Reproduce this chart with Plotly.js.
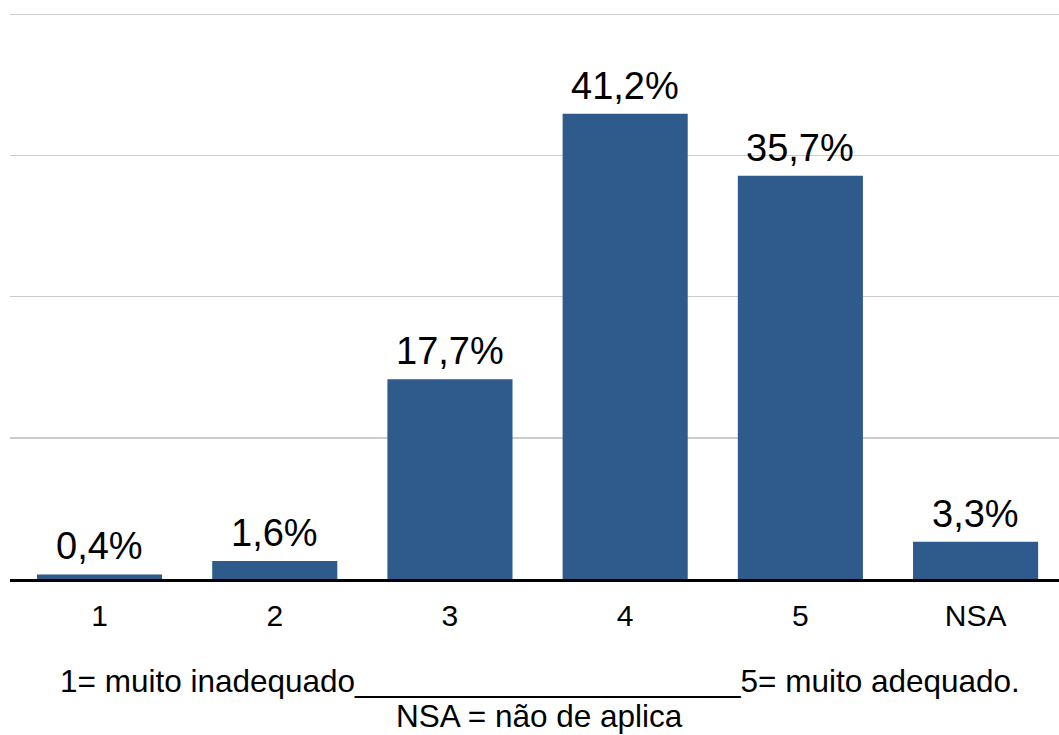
<!DOCTYPE html>
<html>
<head>
<meta charset="utf-8">
<script src="https://cdn.plot.ly/plotly-3.0.1.min.js"></script>
<style>html,body{margin:0;padding:0;background:#fff;}#chart{width:1059px;height:735px;}</style>
</head>
<body>
<div id="chart"></div>
<script>
const categories = ["1", "2", "3", "4", "5", "NSA"];
const values = [0.4, 1.6, 17.7, 41.2, 35.7, 3.3];
const noteLine1 = "1= muito inadequado______________________5= muito adequado.";
const noteLine2 = "NSA = não de aplica";

const font = "Liberation Sans, Arial, Helvetica, sans-serif";

const trace = {
  type: "bar",
  x: categories,
  y: values,
  marker: {color: "#2E5A8C", line: {width: 0}},
  hoverinfo: "none"
};

// value labels placed by category index on the category axis
const valueLabels = categories.map((c, i) => ({
  x: i,
  y: values[i],
  xref: "x",
  yref: "y",
  text: values[i].toFixed(1).replace(".", ",") + "%",
  showarrow: false,
  xanchor: "center",
  yanchor: "bottom",
  yshift: 5,
  font: {family: font, size: 38, color: "#000"}
}));

const layout = {
  width: 1059,
  height: 735,
  margin: {l: 10, r: 0, t: 11, b: 156},
  paper_bgcolor: "#fff",
  plot_bgcolor: "#fff",
  showlegend: false,
  font: {family: font, color: "#000"},
  xaxis: {
    type: "category",
    range: [-0.511, 5.476],
    showgrid: false,
    showline: true,
    linecolor: "#000",
    linewidth: 2.5,
    ticks: "",
    ticklabelstandoff: 8,
    tickfont: {family: font, size: 30, color: "#000"},
    fixedrange: true
  },
  bargap: 0.286,
  yaxis: {
    range: [0, 50.3],
    tickvals: [12.5, 25, 37.5, 50],
    showgrid: true,
    gridcolor: "#cccccc",
    gridwidth: 1.5,
    zeroline: false,
    showticklabels: false,
    ticks: "",
    fixedrange: true
  },
  annotations: valueLabels.concat([
    {text: noteLine1, xref: "paper", yref: "paper", x: 0.5048, y: -0.179, xanchor: "center", yanchor: "middle", showarrow: false, font: {family: font, size: 31.5, color: "#000"}},
    {text: noteLine2, xref: "paper", yref: "paper", x: 0.5048, y: -0.242, xanchor: "center", yanchor: "middle", showarrow: false, font: {family: font, size: 31.5, color: "#000"}}
  ])
};

Plotly.newPlot("chart", [trace], layout, {displayModeBar: false, staticPlot: true});
</script>
</body>
</html>
